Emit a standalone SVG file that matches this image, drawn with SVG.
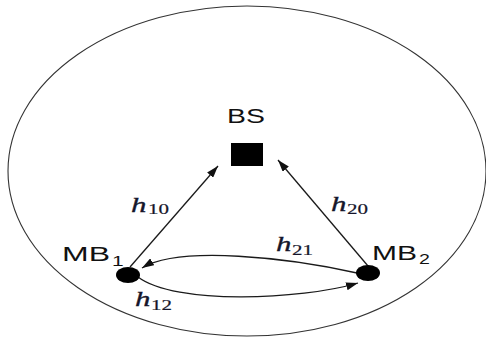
<svg xmlns="http://www.w3.org/2000/svg" width="486" height="338" viewBox="0 0 486 338">
<style>
.edge{fill:none;stroke:#1a1a1a;stroke-width:1.3}
.lbl{font-family:"Liberation Sans",Arial,sans-serif;font-size:20px;fill:#111}
.sub{font-family:"Liberation Sans",Arial,sans-serif;font-size:14px;fill:#111}
.h{font-family:"Liberation Serif","Times New Roman",serif;font-style:italic;font-size:22px;fill:#15152a;stroke:#15152a;stroke-width:0.35}
.hs{font-family:"Liberation Serif","Times New Roman",serif;font-size:15px;fill:#15152a;stroke:#15152a;stroke-width:0.2}
</style>
<defs>
<marker id="arr" viewBox="0 0 12 8" refX="12" refY="4" markerWidth="12" markerHeight="8" markerUnits="userSpaceOnUse" orient="auto">
<path d="M0,0 L12,4 L0,8 z" fill="#111"/>
</marker>
</defs>
<rect width="486" height="338" fill="#fff"/>
<g id="cell">
<ellipse cx="247" cy="171" rx="239" ry="165" fill="none" stroke="#333" stroke-width="1.1"/>
</g>
<g id="edges">
<line class="edge" x1="130" y1="267" x2="218" y2="166" marker-end="url(#arr)"/>
<line class="edge" x1="368" y1="266" x2="278" y2="160" marker-end="url(#arr)"/>
<path class="edge" d="M357,273 C290,258 180,245 142,268" marker-end="url(#arr)"/>
<path class="edge" d="M138,277 C175,305 300,300 358,283" marker-end="url(#arr)"/>
<text class="h" transform="translate(131,212) scale(1.4,1)">h</text>
<text class="hs" transform="translate(148,214) scale(1.4,1)">10</text>
<text class="h" transform="translate(331,211) scale(1.4,1)">h</text>
<text class="hs" transform="translate(347,214) scale(1.4,1)">20</text>
<text class="h" transform="translate(276,251) scale(1.4,1)">h</text>
<text class="hs" transform="translate(292,255) scale(1.4,1)">21</text>
<text class="h" transform="translate(135,306) scale(1.4,1)">h</text>
<text class="hs" transform="translate(151,310) scale(1.4,1)">12</text>
</g>
<g id="BS">
<rect x="231" y="143" width="32" height="23" fill="#000"/>
<text class="lbl" transform="translate(227,123) scale(1.42,1)">BS</text>
</g>
<g id="MB1">
<ellipse cx="128" cy="275" rx="12" ry="8" fill="#000"/>
<text class="lbl" transform="translate(62,261) scale(1.6,1)">MB</text>
<text class="sub" transform="translate(112,266) scale(1.5,1)">1</text>
</g>
<g id="MB2">
<ellipse cx="368" cy="273" rx="12" ry="8" fill="#000"/>
<text class="lbl" transform="translate(372,260) scale(1.5,1)">MB</text>
<text class="sub" transform="translate(419,264) scale(1.4,1)">2</text>
</g>
</svg>
